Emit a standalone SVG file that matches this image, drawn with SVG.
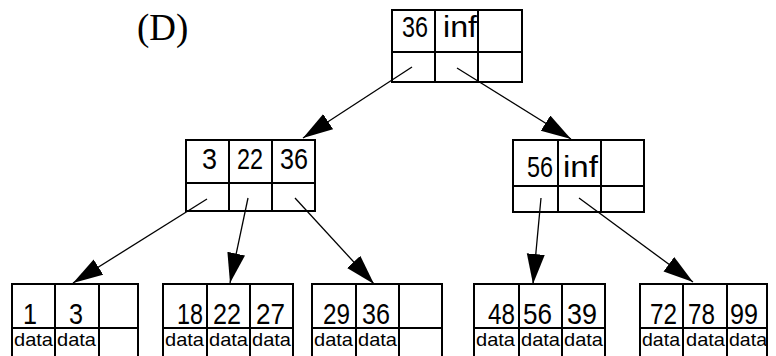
<svg xmlns="http://www.w3.org/2000/svg" width="776" height="356" viewBox="0 0 776 356">
<style>
.box{fill:#fff;stroke:#000;stroke-width:2}
.ln{stroke:#000;stroke-width:2;fill:none}
.k{font-family:"Liberation Sans",Arial,sans-serif;font-size:30px;fill:#000}
.d{font-family:"Liberation Sans",Arial,sans-serif;font-size:19px;fill:#000}
.t{font-family:"Liberation Serif","Times New Roman",serif;font-size:37px;fill:#000}
.c{stroke:#000;stroke-width:1.3;fill:none;marker-end:url(#ah)}
</style>
<defs>
<marker id="ah" markerUnits="userSpaceOnUse" markerWidth="32" markerHeight="20" refX="30" refY="9" orient="auto">
<path d="M0,0 L30,9 L0,18 Z" fill="#000"/>
</marker>
</defs>
<text class="t" x="137" y="40">(D)</text>
<g id="root">
<rect class="box" x="392" y="10" width="130" height="72"/>
<path class="ln" d="M392,52H522M435,10V82M478,10V82"/>
<text class="k" x="402" y="37" textLength="26" lengthAdjust="spacingAndGlyphs">36</text>
<text class="k" x="443" y="37" textLength="34" lengthAdjust="spacingAndGlyphs">inf</text>
</g>
<g id="ml">
<rect class="box" x="186" y="140" width="129" height="71"/>
<path class="ln" d="M186,183H315M229,140V211M272,140V211"/>
<text class="k" x="202" y="169" textLength="15" lengthAdjust="spacingAndGlyphs">3</text>
<text class="k" x="237" y="169" textLength="26" lengthAdjust="spacingAndGlyphs">22</text>
<text class="k" x="280" y="169" textLength="28" lengthAdjust="spacingAndGlyphs">36</text>
</g>
<g id="mr">
<rect class="box" x="513" y="140" width="131" height="72"/>
<path class="ln" d="M513,186H644M558,140V212M601,140V212"/>
<text class="k" x="527" y="177" textLength="26" lengthAdjust="spacingAndGlyphs">56</text>
<text class="k" x="563" y="177" textLength="35" lengthAdjust="spacingAndGlyphs">inf</text>
</g>
<g id="leaf1">
<rect class="box" x="12" y="284" width="126" height="90"/>
<path class="ln" d="M12,328H138M55,284V374M99,284V374"/>
<text class="k" x="23" y="324" textLength="14" lengthAdjust="spacingAndGlyphs">1</text>
<text class="k" x="69" y="324" textLength="14" lengthAdjust="spacingAndGlyphs">3</text>
<text class="d" x="14" y="346" textLength="39" lengthAdjust="spacingAndGlyphs">data</text>
<text class="d" x="57" y="346" textLength="39" lengthAdjust="spacingAndGlyphs">data</text>
</g>
<g id="leaf2">
<rect class="box" x="163" y="284" width="130" height="90"/>
<path class="ln" d="M163,328H293M207,284V374M250,284V374"/>
<text class="k" x="177" y="324" textLength="26" lengthAdjust="spacingAndGlyphs">18</text>
<text class="k" x="213" y="324" textLength="28" lengthAdjust="spacingAndGlyphs">22</text>
<text class="k" x="256" y="324" textLength="29" lengthAdjust="spacingAndGlyphs">27</text>
<text class="d" x="165" y="346" textLength="39" lengthAdjust="spacingAndGlyphs">data</text>
<text class="d" x="209" y="346" textLength="39" lengthAdjust="spacingAndGlyphs">data</text>
<text class="d" x="252" y="346" textLength="39" lengthAdjust="spacingAndGlyphs">data</text>
</g>
<g id="leaf3">
<rect class="box" x="312" y="284" width="130" height="90"/>
<path class="ln" d="M312,328H442M356,284V374M399,284V374"/>
<text class="k" x="323" y="324" textLength="27" lengthAdjust="spacingAndGlyphs">29</text>
<text class="k" x="362" y="324" textLength="28" lengthAdjust="spacingAndGlyphs">36</text>
<text class="d" x="314" y="346" textLength="39" lengthAdjust="spacingAndGlyphs">data</text>
<text class="d" x="358" y="346" textLength="39" lengthAdjust="spacingAndGlyphs">data</text>
</g>
<g id="leaf4">
<rect class="box" x="474" y="284" width="131" height="90"/>
<path class="ln" d="M474,328H605M519,284V374M562,284V374"/>
<text class="k" x="488" y="324" textLength="27" lengthAdjust="spacingAndGlyphs">48</text>
<text class="k" x="523" y="324" textLength="29" lengthAdjust="spacingAndGlyphs">56</text>
<text class="k" x="567" y="324" textLength="30" lengthAdjust="spacingAndGlyphs">39</text>
<text class="d" x="476" y="346" textLength="39" lengthAdjust="spacingAndGlyphs">data</text>
<text class="d" x="521" y="346" textLength="39" lengthAdjust="spacingAndGlyphs">data</text>
<text class="d" x="564" y="346" textLength="39" lengthAdjust="spacingAndGlyphs">data</text>
</g>
<g id="leaf5">
<rect class="box" x="640" y="284" width="127" height="90"/>
<path class="ln" d="M640,328H767M683,284V374M727,284V374"/>
<text class="k" x="650" y="324" textLength="27" lengthAdjust="spacingAndGlyphs">72</text>
<text class="k" x="688" y="324" textLength="27" lengthAdjust="spacingAndGlyphs">78</text>
<text class="k" x="730" y="324" textLength="28" lengthAdjust="spacingAndGlyphs">99</text>
<text class="d" x="642" y="346" textLength="38" lengthAdjust="spacingAndGlyphs">data</text>
<text class="d" x="686" y="346" textLength="39" lengthAdjust="spacingAndGlyphs">data</text>
<text class="d" x="729" y="346" textLength="38" lengthAdjust="spacingAndGlyphs">data</text>
</g>
<g id="connectors">
<line class="c" x1="412" y1="67" x2="303" y2="138"/>
<line class="c" x1="457" y1="68" x2="571" y2="139"/>
<line class="c" x1="207" y1="199" x2="73" y2="283"/>
<line class="c" x1="248" y1="198" x2="230" y2="283"/>
<line class="c" x1="295" y1="198" x2="374" y2="284"/>
<line class="c" x1="541" y1="198" x2="533" y2="284"/>
<line class="c" x1="579" y1="198" x2="693" y2="282"/>
</g>
</svg>
